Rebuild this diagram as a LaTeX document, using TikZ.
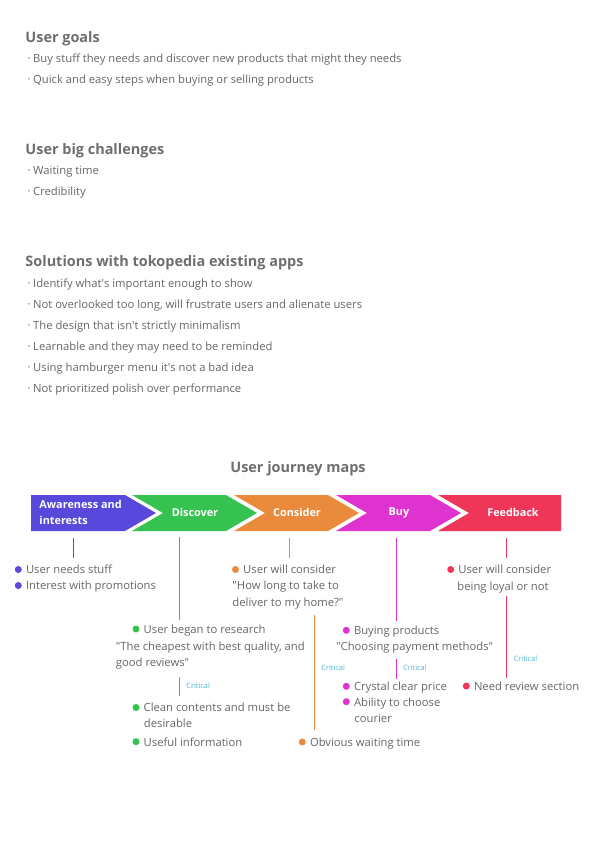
\documentclass[tikz,border=0pt]{standalone}
\usepackage{fontspec}
\setmainfont{Open Sans}
\usepackage{tikz}
\usetikzlibrary{positioning}
\usepackage{xcolor}
\definecolor{C0}{HTML}{5848DC}
\definecolor{C1}{HTML}{35C250}
\definecolor{C2}{HTML}{E98A3D}
\definecolor{C3}{HTML}{DE33CE}
\definecolor{C4}{HTML}{EF3558}
\definecolor{txt}{HTML}{666666}
\definecolor{headtxt}{HTML}{6E6E6E}
\definecolor{crit}{HTML}{4DB6D0}
\newcommand{\tbul}{{\fontsize{6}{6}\selectfont\raisebox{1.8bp}{•}}\hspace{3bp}}
\newcommand{\sq}{\textquotesingle}
\newcommand{\dq}{\textquotedbl}

\begin{document}
\begin{tikzpicture}[x=1bp,y=-1bp,line width=0.9bp]

\tikzset{
head/.style={anchor=west,inner sep=0,text=headtxt,font=\fontsize{14.5}{16}\selectfont\bfseries,text height=10.5bp,text depth=3bp,yshift=-1.5bp},
body/.style={anchor=west,inner sep=0,text=txt,font=\fontsize{11.3}{16}\selectfont,text height=8.3bp,text depth=2.4bp,yshift=-1.5bp},
stagetext/.style={inner sep=0,text=white,align=left,font=\fontsize{10.9}{16}\selectfont\bfseries},
dot/.style={circle,fill=#1,inner sep=0,minimum size=7bp},
critical/.style={anchor=west,inner sep=0,text=crit,font=\fontsize{7.4}{8}\selectfont},
}

\useasboundingbox (0,0) rectangle (595,842);

% lists
\node[head] (goals) at (25,37) {User goals};
\node[body] (g1) at (27.5,58) {\tbul Buy stuff they needs and discover new products that might they needs};
\node[body] (g2) at (27.5,79) {\tbul Quick and easy steps when buying or selling products};

\node[head] (chal) at (25,149) {User big challenges};
\node[body] (c1) at (27.5,170) {\tbul Waiting time};
\node[body] (c2) at (27.5,191) {\tbul Credibility};

\node[head] (sol) at (25,261) {Solutions with tokopedia existing apps};
\node[body] (s1) at (27.5,283) {\tbul Identify what\sq s important enough to show};
\node[body] (s2) at (27.5,304) {\tbul Not overlooked too long, will frustrate users and alienate users};
\node[body] (s3) at (27.5,325) {\tbul The design that isn\sq t strictly minimalism};
\node[body] (s4) at (27.5,346) {\tbul Learnable and they may need to be reminded};
\node[body] (s5) at (27.5,367) {\tbul Using hamburger menu it\sq s not a bad idea};
\node[body] (s6) at (27.5,388) {\tbul Not prioritized polish over performance};

% journey bar
\node[head,anchor=center] (title) at (298,467) {User journey maps};

\def\bt{495}
\def\bb{531}
\def\bm{513}
\fill[C0] (31,\bt) -- (125,\bt) -- (156,\bm) -- (125,\bb) -- (31,\bb) -- cycle;
\fill[C1] (132,\bt) -- (226,\bt) -- (257,\bm) -- (226,\bb) -- (132,\bb) -- (163,\bm) -- cycle;
\fill[C2] (234,\bt) -- (328,\bt) -- (359,\bm) -- (328,\bb) -- (234,\bb) -- (265,\bm) -- cycle;
\fill[C3] (336,\bt) -- (430,\bt) -- (461,\bm) -- (430,\bb) -- (336,\bb) -- (367,\bm) -- cycle;
\fill[C4] (438,\bt) -- (561,\bt) -- (561,\bb) -- (438,\bb) -- (469,\bm) -- cycle;

\node[stagetext,anchor=west] (aware) at (39,512.5) {Awareness and\\interests};
\node[stagetext] (disc) at (195,512.5) {Discover};
\node[stagetext] (cons) at (297,512.5) {Consider};
\node[stagetext] (buy) at (399,512.5) {Buy};
\node[stagetext] (feed) at (513,512.5) {Feedback};

% awareness
\coordinate (aw-a) at (73,538);
\coordinate (aw-b) at (73,558);
\draw[C0] (aw-a) -- (aw-b);
\node[dot=C0] (aw-d1) at (18.3,569.5) {};
\node[body,right=3.3bp of aw-d1] (aw-1) {User needs stuff};
\node[dot=C0] (aw-d2) at (18.3,585.5) {};
\node[body,right=3.3bp of aw-d2] (aw-2) {Interest with promotions};

% discover
\coordinate (di-a) at (179.3,537);
\coordinate (di-b) at (179.3,620);
\coordinate (di-c) at (179.3,677);
\coordinate (di-d) at (179.3,696);
\draw[C1] (di-a) -- (di-b);
\draw[C1] (di-c) -- (di-d);
\node[critical] (di-crit) at (186,686) {Critical};
\node[dot=C1] (di-d1) at (136,629) {};
\node[body,right=3.3bp of di-d1] (di-1) {User began to research};
\node[body] (di-1b) at (115.5,645.7) {\dq The cheapest with best quality, and};
\node[body] (di-1c) at (115.5,661.7) {good reviews\dq};
\node[dot=C1] (di-d2) at (136,707.5) {};
\node[body,right=3.3bp of di-d2] (di-2) {Clean contents and must be};
\node[body] (di-2b) at (143.5,723) {desirable};
\node[dot=C1] (di-d3) at (136,741.7) {};
\node[body,right=3.3bp of di-d3] (di-3) {Useful information};

% consider
\coordinate (co-a) at (289,538);
\coordinate (co-b) at (289,558);
\coordinate (co-c) at (314.3,615);
\coordinate (co-d) at (314.3,730);
\draw[C2] (co-a) -- (co-b);
\draw[C2] (co-c) -- (co-d);
\node[critical] (co-crit) at (321,668) {Critical};
\node[dot=C2] (co-d1) at (235.5,569.5) {};
\node[body,right=3.3bp of co-d1] (co-1) {User will consider};
\node[body] (co-1b) at (232,585.5) {\dq How long to take to};
\node[body] (co-1c) at (232,601.7) {deliver to my home?\dq};
\node[dot=C2] (co-d2) at (302.3,742) {};
\node[body,right=3.3bp of co-d2] (co-2) {Obvious waiting time};

% buy
\coordinate (bu-a) at (396.5,538);
\coordinate (bu-b) at (396.5,621);
\coordinate (bu-c) at (396.5,659);
\coordinate (bu-d) at (396.5,679);
\draw[C3] (bu-a) -- (bu-b);
\draw[C3] (bu-c) -- (bu-d);
\node[critical] (bu-crit) at (402.7,668) {Critical};
\node[dot=C3] (bu-d1) at (346.3,630.3) {};
\node[body,right=3.3bp of bu-d1] (bu-1) {Buying products};
\node[body] (bu-1b) at (335.7,645.7) {\dq Choosing payment methods\dq};
\node[dot=C3] (bu-d2) at (346.3,686.3) {};
\node[body,right=3.3bp of bu-d2] (bu-2) {Crystal clear price};
\node[dot=C3] (bu-d3) at (346.3,701.7) {};
\node[body,right=3.3bp of bu-d3] (bu-3) {Ability to choose};
\node[body] (bu-3b) at (354,717.7) {courier};

% feedback
\coordinate (fe-a) at (506.3,538);
\coordinate (fe-b) at (506.3,558);
\coordinate (fe-c) at (506.3,596);
\coordinate (fe-d) at (506.3,678.3);
\draw[C4] (fe-a) -- (fe-b);
\draw[C4] (fe-c) -- (fe-d);
\node[critical] (fe-crit) at (513.3,659) {Critical};
\node[dot=C4] (fe-d1) at (450.7,569.5) {};
\node[body,right=3.3bp of fe-d1] (fe-1) {User will consider};
\node[body] (fe-1b) at (457,585.7) {being loyal or not};
\node[dot=C4] (fe-d2) at (466.3,686) {};
\node[body,right=3.3bp of fe-d2] (fe-2) {Need review section};

\end{tikzpicture}
\end{document}
